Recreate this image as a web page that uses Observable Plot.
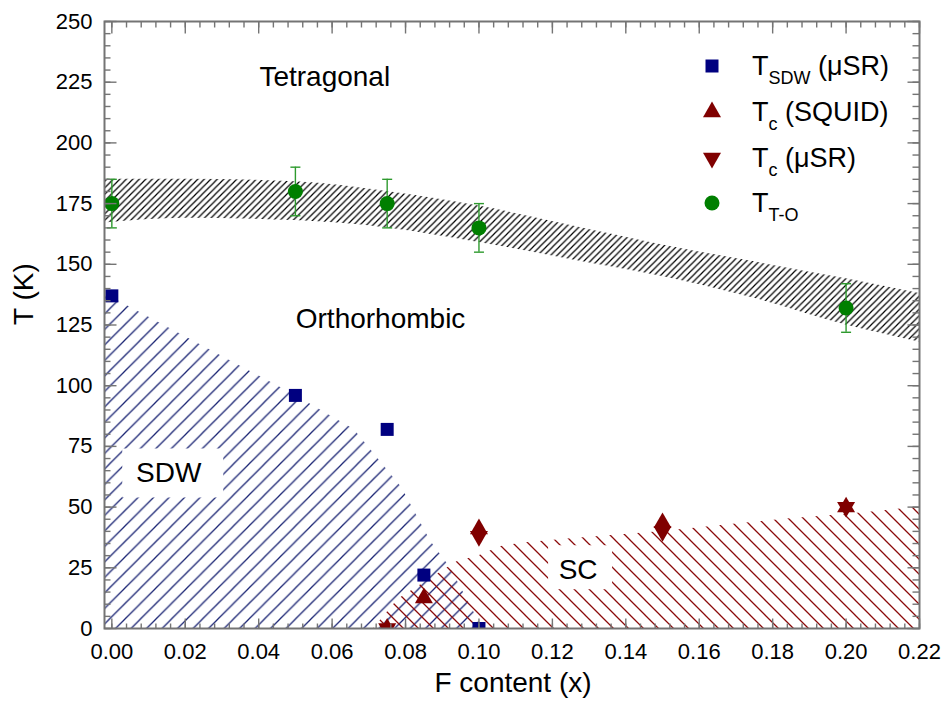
<!DOCTYPE html>
<html><head><meta charset="utf-8">
<script src="https://cdn.jsdelivr.net/npm/d3@7"></script>
<script src="https://cdn.jsdelivr.net/npm/@observablehq/plot@0.6"></script>
<style>
body{margin:0;background:#fff;font-family:"Liberation Sans",Arial,sans-serif}
#wrap{position:relative;width:945px;height:712px}
.lrow{position:absolute;left:700px;height:40px;display:flex;align-items:center;white-space:nowrap}
.lrow svg{width:24px;height:24px;overflow:visible}
.ltxt{margin-left:28px;font-size:27px;line-height:1;color:#000}
.ltxt sub{font-size:18px;vertical-align:-9px;line-height:0}
</style>
</head><body><div id="wrap"></div>
<script>
// ---- data ----
const sdwX = [0, 0.05, 0.075, 0.085, 0.1];
const sdwT = [137, 96, 82, 22, 0];
const squidX = [0.075, 0.085, 0.1, 0.15, 0.2];
const squidT = [0, 12.5, 41, 43.5, 50];
const musrTcX = [0.075, 0.1, 0.15, 0.2];
const musrTcT = [0, 38, 40, 50];
const toX = [0, 0.05, 0.075, 0.1, 0.2];
const toT = [175, 180, 175, 165, 132];
const toErr = [10, 10, 10, 10, 10];

const bandX = [-0.002, 0.02, 0.05, 0.075, 0.1, 0.125, 0.15, 0.175, 0.2, 0.22];
const bandUpper = [185, 185, 184, 180, 174, 166, 158, 151, 144, 138];
const bandLower = [167, 169, 168, 165, 159, 152, 145, 136, 125, 118];

const sdwEdgeX = [-0.002, 0.05, 0.066, 0.079, 0.0868, 0.0922, 0.101];
const sdwEdgeT = [138, 96, 82, 58, 36, 25, 0];

const scEdgeX = [0.0713, 0.078, 0.094, 0.1, 0.106, 0.112, 0.125, 0.15, 0.17, 0.183, 0.196, 0.207, 0.22];
const scEdgeT = [0, 12, 27.5, 30, 33.8, 35.2, 37, 40, 43, 45, 46.5, 48, 50];

const xMajor = d3.range(0, 12).map(i => i * 0.02);
const xMinor = d3.range(0, 56).map(i => i * 0.004);
const yMajor = d3.range(0, 251, 25);
const yMinor = d3.range(0, 251, 5);

const annotations = [
  {text: "Tetragonal", x: 0.058, y: 227},
  {text: "Orthorhombic", x: 0.0732, y: 127.5},
  {text: "SDW", x: 0.0155, y: 64},
  {text: "SC", x: 0.127, y: 24}
];

const legendItems = [
  {main: "T", sub: "SDW", tail: " (μSR)", kind: "square"},
  {main: "T", sub: "c", tail: " (SQUID)", kind: "up"},
  {main: "T", sub: "c", tail: " (μSR)", kind: "down"},
  {main: "T", sub: "T-O", tail: "", kind: "circle"}
];

// ---- styles ----
const NAVY = "#000080", MAROON = "#800000", GREEN = "#007f00", EGREEN = "#2e9a2e";
const AXIS = "#747474";

const rows = (xs, ys) => xs.map((x, i) => ({x, t: ys[i]}));
const sdw = rows(sdwX, sdwT);
const squid = rows(squidX, squidT);
const musr = rows(musrTcX, musrTcT);
const to = toX.map((x, i) => ({x, t: toT[i], e: toErr[i]}));
const band = bandX.map((x, i) => ({x, hi: bandUpper[i], lo: bandLower[i]}));
const sdwArea = rows(sdwEdgeX, sdwEdgeT);
const scArea = rows(scEdgeX, scEdgeT);

const seg = (x1, y1, x2, y2) => ({draw(c) { c.moveTo(x1, y1); c.lineTo(x2, y2); }});
const rectSym = (w, h) => ({draw(c) { c.rect(-w / 2, -h / 2, w, h); }});
const S = 18, H = S * Math.sqrt(3) / 2;
const triUp = {draw(c) { c.moveTo(0, -2 * H / 3); c.lineTo(S / 2, H / 3); c.lineTo(-S / 2, H / 3); c.closePath(); }};
const triDown = {draw(c) { c.moveTo(0, 2 * H / 3); c.lineTo(S / 2, -H / 3); c.lineTo(-S / 2, -H / 3); c.closePath(); }};
const square = rectSym(13, 13);
const circle = {draw(c) { c.moveTo(7.5, 0); c.arc(0, 0, 7.5, 0, 2 * Math.PI); }};

const tick = (data, channel, anchor, sym) =>
  Plot.dot(data, {[channel]: d => d, frameAnchor: anchor, symbol: sym, fill: "none", stroke: AXIS, strokeWidth: 1.4});

const chart = Plot.plot({
  width: 945, height: 712,
  marginLeft: 104, marginRight: 26, marginTop: 21, marginBottom: 84,
  x: {domain: [-0.002, 0.22]},
  y: {domain: [0, 250]},
  style: {fontFamily: "'Liberation Sans', Arial, sans-serif", background: "#fff", color: "#000"},
  marks: [
    Plot.areaY(band, {x: "x", y1: "lo", y2: "hi", fill: "url(#hBlack)", curve: "monotone-x"}),
    Plot.areaY(sdwArea, {x: "x", y1: 0, y2: "t", fill: "url(#hBlue)"}),
    Plot.areaY(scArea, {x: "x", y1: 0, y2: "t", fill: "url(#hRed)"}),
    Plot.dot(annotations.filter(d => d.text === "SDW"), {x: "x", y: "y", symbol: rectSym(101, 49), dx: 4, fill: "#fff", stroke: "none"}),
    Plot.dot(annotations.filter(d => d.text === "SC"), {x: "x", y: "y", symbol: rectSym(64, 44), dx: 2, dy: -3, fill: "#fff", stroke: "none"}),
    Plot.text(annotations, {x: "x", y: "y", text: "text", fontSize: 28, fill: "#000"}),
    Plot.ruleX(to, {x: "x", y1: d => d.t - d.e, y2: d => d.t + d.e, stroke: EGREEN, strokeWidth: 1.4}),
    Plot.dot(to, {x: "x", y: d => d.t + d.e, symbol: seg(-5, 0, 5, 0), fill: "none", stroke: EGREEN, strokeWidth: 1.4}),
    Plot.dot(to, {x: "x", y: d => d.t - d.e, symbol: seg(-5, 0, 5, 0), fill: "none", stroke: EGREEN, strokeWidth: 1.4}),
    Plot.dot(to, {x: "x", y: "t", symbol: circle, fill: GREEN, stroke: "none", clip: true}),
    Plot.dot(sdw, {x: "x", y: "t", symbol: square, fill: NAVY, stroke: "none", clip: true}),
    Plot.dot(squid, {x: "x", y: "t", symbol: triUp, fill: MAROON, stroke: "none", clip: true}),
    Plot.dot(musr, {x: "x", y: "t", symbol: triDown, fill: MAROON, stroke: "none", clip: true}),
    Plot.frame({stroke: AXIS, strokeWidth: 2}),
    tick(yMinor, "y", "left", seg(0, 0, 6, 0)),
    tick(yMajor, "y", "left", seg(0, 0, 12, 0)),
    tick(yMinor, "y", "right", seg(0, 0, -7, 0)),
    tick(yMajor, "y", "right", seg(0, 0, -12, 0)),
    tick(xMinor, "x", "bottom", seg(0, 0, 0, -5)),
    tick(xMajor, "x", "bottom", seg(0, 0, 0, -10)),
    tick(xMinor, "x", "top", seg(0, 0, 0, 6)),
    tick(xMajor, "x", "top", seg(0, 0, 0, 12)),
    Plot.axisX({ticks: xMajor, tickSize: 0, tickPadding: 15, tickFormat: d3.format(".2f"), fontSize: 22, label: null, fill: "#000"}),
    Plot.axisY({ticks: yMajor, tickSize: 0, tickPadding: 12, tickFormat: d => String(d), fontSize: 22, label: null, fill: "#000"}),
    Plot.text(["F content (x)"], {text: d => d, frameAnchor: "bottom", dy: 63, dx: 1, fontSize: 28, fill: "#000"}),
    Plot.text(["T (K)"], {text: d => d, frameAnchor: "left", dx: -80, rotate: -90, fontSize: 28, fill: "#000"})
  ]
});

// hatch patterns ("/" when dir > 0, "\" when dir < 0)
const defs = d3.select(chart).insert("defs", ":first-child");
function hatch(id, s, color, w, dir) {
  const p = defs.append("pattern").attr("id", id).attr("patternUnits", "userSpaceOnUse")
    .attr("width", s).attr("height", s);
  const d = dir > 0
    ? `M0,${s} L${s},0 M${-s/4},${s/4} L${s/4},${-s/4} M${3*s/4},${5*s/4} L${5*s/4},${3*s/4}`
    : `M0,0 L${s},${s} M${-s/4},${3*s/4} L${s/4},${5*s/4} M${3*s/4},${-s/4} L${5*s/4},${s/4}`;
  p.append("path").attr("d", d).attr("stroke", color).attr("stroke-width", w).attr("fill", "none");
}
hatch("hBlack", 6.5, "#000", 1.2, 1);
hatch("hBlue", 15.5, "#1b2574", 1.3, 1);
hatch("hRed", 15, "#8b0a0a", 1.3, -1);

const wrap = document.getElementById("wrap");
wrap.appendChild(chart);

// legend overlay
const symFor = {square, up: triUp, down: triDown, circle};
const colFor = {square: NAVY, up: MAROON, down: MAROON, circle: GREEN};
const rowCenters = [66, 112, 158, 203];
legendItems.forEach((it, i) => {
  const row = document.createElement("div");
  row.className = "lrow";
  row.style.top = (rowCenters[i] - 20) + "px";
  const path = d3.symbol().type(symFor[it.kind])();
  row.innerHTML = `<svg viewBox="-12 -12 24 24"><path d="${path}" fill="${colFor[it.kind]}"/></svg>` +
    `<span class="ltxt">${it.main}<sub>${it.sub}</sub>${it.tail}</span>`;
  wrap.appendChild(row);
});
</script>
</body></html>
